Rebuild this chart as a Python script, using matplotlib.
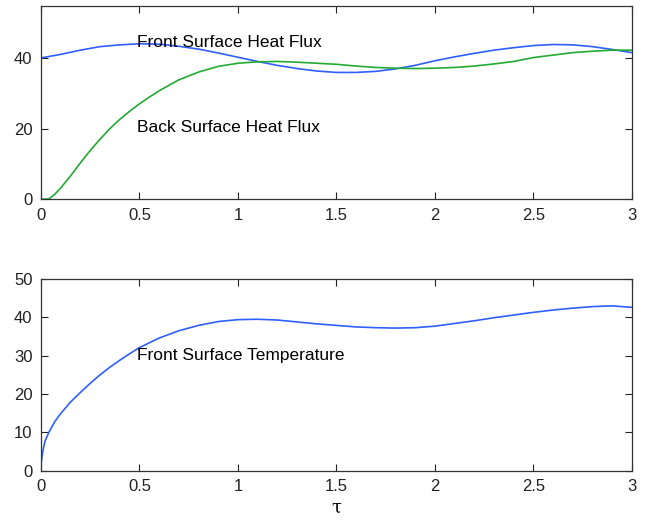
"""
Front / back surface heat flux and front surface temperature vs tau.
Two stacked panels, MATLAB-ish look (box, ticks inside).
"""
import matplotlib
matplotlib.use('Agg')
import matplotlib.pyplot as plt

plt.rcParams['font.family'] = ['Liberation Sans', 'DejaVu Sans']

# values
tau = [0.0, 0.1, 0.2, 0.3, 0.4, 0.5, 0.6, 0.7, 0.8, 0.9,
       1.0, 1.1, 1.2, 1.3, 1.4, 1.5, 1.6, 1.7, 1.8, 1.9,
       2.0, 2.1, 2.2, 2.3, 2.4, 2.5, 2.6, 2.7, 2.8, 2.9, 3.0]

front_flux = [40.0, 41.0, 42.2, 43.2, 43.7, 44.0, 43.9, 43.3, 42.5, 41.4,
              40.2, 39.0, 37.9, 37.0, 36.3, 35.9, 35.9, 36.2, 36.9, 37.9,
              39.2, 40.3, 41.3, 42.2, 42.9, 43.5, 43.8, 43.7, 43.2, 42.4, 41.5]

tau_back = [0.0, 0.04, 0.07, 0.1, 0.15, 0.2, 0.25, 0.3, 0.35, 0.4, 0.45, 0.5,
            0.55, 0.6, 0.7, 0.8, 0.9,
            1.0, 1.1, 1.2, 1.3, 1.4, 1.5, 1.6, 1.7, 1.8, 1.9,
            2.0, 2.1, 2.2, 2.3, 2.4, 2.5, 2.6, 2.7, 2.8, 2.9, 3.0]
back_flux = [0.0, 0.1, 1.4, 3.2, 6.6, 10.3, 13.8, 17.0, 20.0, 22.6, 24.9, 27.0,
             28.9, 30.7, 33.8, 36.0, 37.6,
             38.5, 38.9, 39.0, 38.8, 38.5, 38.2, 37.7, 37.3, 37.1, 37.0,
             37.1, 37.3, 37.7, 38.3, 39.0, 40.1, 40.8, 41.5, 41.9, 42.2, 42.2]

tau_temp = [0.0, 0.005, 0.01, 0.02, 0.04, 0.07, 0.1, 0.15, 0.2, 0.25, 0.3,
            0.35, 0.4, 0.45, 0.5, 0.6, 0.7, 0.8, 0.9,
            1.0, 1.1, 1.2, 1.3, 1.4, 1.5, 1.6, 1.7, 1.8, 1.9,
            2.0, 2.1, 2.2, 2.3, 2.4, 2.5, 2.6, 2.7, 2.8, 2.9, 3.0]
front_temp = [1.5, 3.5, 5.2, 7.6, 10.0, 12.8, 14.9, 17.9, 20.4, 22.8, 25.0,
              27.0, 28.8, 30.5, 32.1, 34.6, 36.5, 37.9, 38.9,
              39.4, 39.5, 39.3, 38.8, 38.3, 37.9, 37.5, 37.3, 37.2, 37.3,
              37.7, 38.4, 39.1, 39.9, 40.6, 41.3, 41.9, 42.4, 42.8, 43.0, 42.6]

XTICKS = [0, 0.5, 1, 1.5, 2, 2.5, 3]
XTICKLABELS = ['0', '0.5', '1', '1.5', '2', '2.5', '3']

BLUE = '#2f5fff'
GREEN = '#22aa33'

fig = plt.figure(figsize=(6.5, 5.21), dpi=100)
ax1 = fig.add_axes([0.063, 0.6175, 0.909, 0.371])
ax2 = fig.add_axes([0.063, 0.0965, 0.909, 0.368])

# top panel: heat fluxes
ax1.plot(tau, front_flux, color=BLUE, lw=1.2)
ax1.plot(tau_back, back_flux, color=GREEN, lw=1.2)
ax1.set_ylim(0, 54.7)
ax1.set_yticks([0, 20, 40])
ax1.text(0.49, 44.5, 'Front Surface Heat Flux', fontsize=12.5, va='center')
ax1.text(0.49, 20.2, 'Back Surface Heat Flux', fontsize=12.5, va='center')

# bottom panel: temperature
ax2.plot(tau_temp, front_temp, color=BLUE, lw=1.2)
ax2.set_ylim(0, 50)
ax2.set_yticks([0, 10, 20, 30, 40, 50])
ax2.text(0.49, 30.0, 'Front Surface Temperature', fontsize=12.5, va='center')
ax2.set_xlabel('τ', fontsize=13, family=['DejaVu Serif'], labelpad=3)

# aesthetics
for ax in (ax1, ax2):
    ax.set_xlim(0, 3)
    ax.set_xticks(XTICKS)
    ax.set_xticklabels(XTICKLABELS)
    ax.tick_params(direction='in', length=5, width=0.8, top=True, right=True,
                   labelsize=12, colors='#222222', pad=6)
    for sp in ax.spines.values():
        sp.set_color('#333333')
        sp.set_linewidth(0.9)

plt.savefig('out.png', dpi=100)
plt.close()
